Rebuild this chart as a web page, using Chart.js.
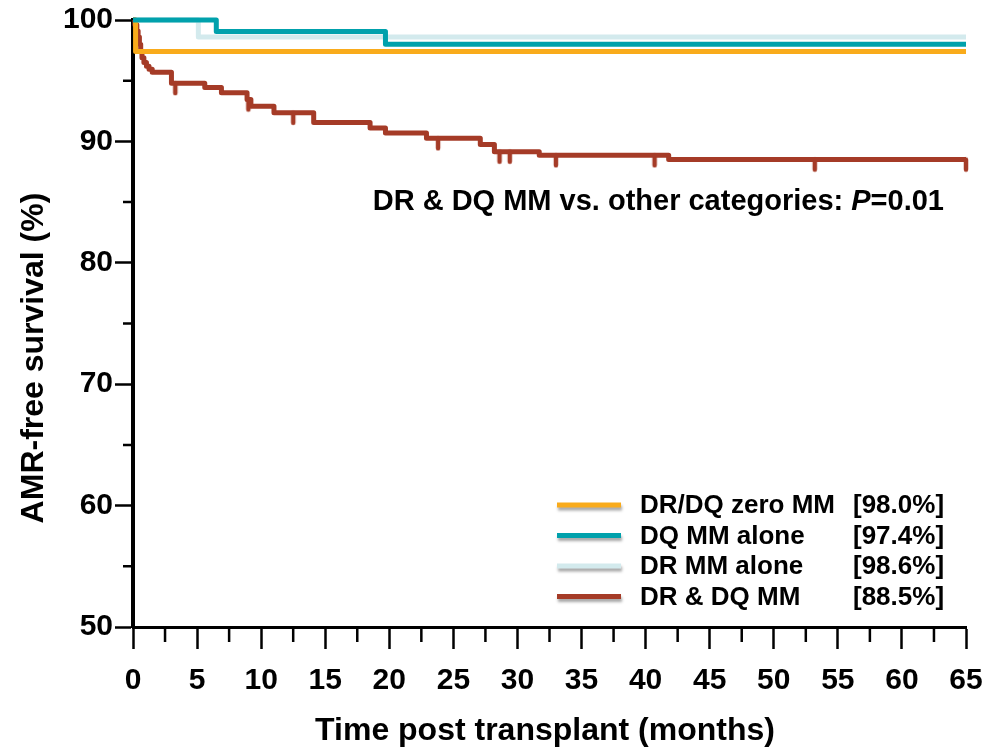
<!DOCTYPE html>
<html>
<head>
<meta charset="utf-8">
<script src="https://cdn.jsdelivr.net/npm/chart.js@4.4.1/dist/chart.umd.min.js"></script>
<style>
  html, body { margin: 0; padding: 0; background: #ffffff; }
  #wrap { width: 990px; height: 748px; }
</style>
</head>
<body>
<div id="wrap"><canvas id="km" width="990" height="748"></canvas></div>
<script>
// Kaplan-Meier AMR-free survival by HLA-DR/DQ mismatch category
const seriesNames   = ['DR/DQ zero MM', 'DQ MM alone', 'DR MM alone', 'DR & DQ MM'];
const legendPercent = ['[98.0%]', '[97.4%]', '[98.6%]', '[88.5%]'];
const seriesColors  = ['#f9ab1b', '#00a1ac', '#d3eaed', '#a53b27'];

// event times (months) and survival (%) after each event
const zeroMmTime = [0, 0.2, 65];
const zeroMmSurv = [100, 97.4, 97.4];

const dqOnlyTime = [0, 6.5, 19.7, 65];
const dqOnlySurv = [100, 99.05, 98.0, 98.0];

const drOnlyTime = [0, 5.1, 65];
const drOnlySurv = [100, 98.6, 98.6];

const bothTime = [0, 0.15, 0.3, 0.4, 0.5, 0.6, 0.7, 0.85, 1.05, 1.25, 1.5, 3.0, 5.6, 6.9, 8.9, 9.2, 11.0, 14.1, 18.5, 19.7, 22.9, 27.1, 28.2, 31.7, 41.8, 65];
const bothSurv = [100, 99.6, 99.1, 98.6, 98.0, 97.4, 96.9, 96.5, 96.2, 95.95, 95.7, 94.8, 94.45, 94.0, 93.45, 92.9, 92.35, 91.55, 91.1, 90.7, 90.25, 89.75, 89.15, 88.85, 88.5, 88.5];

// censored observations in the DR & DQ MM group (months)
const bothCensored = [3.3, 9.0, 12.5, 23.8, 28.6, 29.4, 33.0, 40.7, 53.2, 65];

// axis ticks
const xTickValues  = [0, 5, 10, 15, 20, 25, 30, 35, 40, 45, 50, 55, 60, 65];
const xMinorValues = [2.5, 7.5, 12.5, 17.5, 22.5, 27.5, 32.5, 37.5, 42.5, 47.5, 52.5, 57.5, 62.5];
const yTickValues  = [50, 60, 70, 80, 90, 100];
const yMinorValues = [55, 65, 75, 85, 95];

const xTitle = 'Time post transplant (months)';
const yTitle = 'AMR-free survival (%)';
const noteText = 'DR & DQ MM vs. other categories: ';
const notePLabel = 'P';
const notePValue = '=0.01';

const FONT = '"Liberation Sans", Arial, Helvetica, sans-serif';

function toPoints(times, surv) {
  return times.map((t, i) => ({ x: t, y: surv[i] }));
}

// survival level of a step curve at time t
function levelAt(times, surv, t) {
  let v = surv[0];
  for (let i = 0; i < times.length; i++) {
    if (times[i] <= t) v = surv[i];
  }
  return v;
}

// tick mark hanging below a censored point
function censorMark(color) {
  const c = document.createElement('canvas');
  c.width = 8; c.height = 26;
  const g = c.getContext('2d');
  g.strokeStyle = color;
  g.lineWidth = 4.5;
  g.lineCap = 'round';
  g.beginPath();
  g.moveTo(4, 13);
  g.lineTo(4, 23);
  g.stroke();
  return c;
}

function stepDataset(i, times, surv, order) {
  return {
    label: seriesNames[i],
    data: toPoints(times, surv),
    borderColor: seriesColors[i],
    backgroundColor: seriesColors[i],
    borderWidth: 5,
    stepped: 'before',
    pointRadius: 0,
    fill: false,
    clip: false,
    borderJoinStyle: 'round',
    order: order
  };
}

const datasets = [
  stepDataset(1, dqOnlyTime, dqOnlySurv, 0),
  stepDataset(0, zeroMmTime, zeroMmSurv, 1),
  stepDataset(3, bothTime, bothSurv, 2),
  stepDataset(2, drOnlyTime, drOnlySurv, 3),
  {
    label: 'censored',
    data: bothCensored.map(t => ({ x: t, y: levelAt(bothTime, bothSurv, t) })),
    showLine: false,
    pointStyle: censorMark(seriesColors[3]),
    pointRadius: 3,
    clip: false,
    order: 2
  }
];

const minorTicksPlugin = {
  id: 'minorTicks',
  afterDraw(chart) {
    const ctx = chart.ctx;
    const xs = chart.scales.x, ys = chart.scales.y;
    const area = chart.chartArea;
    ctx.save();
    ctx.strokeStyle = '#000';
    ctx.lineWidth = 2.5;
    ctx.beginPath();
    xMinorValues.forEach(v => {
      const px = xs.getPixelForValue(v);
      ctx.moveTo(px, area.bottom);
      ctx.lineTo(px, area.bottom + 15);
    });
    yMinorValues.forEach(v => {
      const py = ys.getPixelForValue(v);
      ctx.moveTo(area.left, py);
      ctx.lineTo(area.left - 10, py);
    });
    ctx.stroke();
    ctx.restore();
  }
};

const textPlugin = {
  id: 'chartTexts',
  afterDraw(chart) {
    const ctx = chart.ctx;
    ctx.save();
    ctx.fillStyle = '#000';

    // axis titles
    ctx.font = 'bold 32px ' + FONT;
    ctx.textAlign = 'center';
    ctx.textBaseline = 'alphabetic';
    ctx.fillText(xTitle, 545, 740);

    ctx.save();
    ctx.translate(43, 358);
    ctx.rotate(-Math.PI / 2);
    ctx.fillText(yTitle, 0, 0);
    ctx.restore();

    // comparison note, right aligned
    ctx.textAlign = 'left';
    const regular = 'bold 29px ' + FONT;
    const italic = 'italic bold 29px ' + FONT;
    ctx.font = regular;
    const w1 = ctx.measureText(noteText).width;
    const w3 = ctx.measureText(notePValue).width;
    ctx.font = italic;
    const w2 = ctx.measureText(notePLabel).width;
    const right = 944, base = 210;
    let x = right - (w1 + w2 + w3);
    ctx.font = regular;
    ctx.fillText(noteText, x, base);
    x += w1;
    ctx.font = italic;
    ctx.fillText(notePLabel, x, base);
    x += w2;
    ctx.font = regular;
    ctx.fillText(notePValue, x, base);

    // legend
    const rows = [505, 535.5, 566, 596.5];
    seriesNames.forEach((name, i) => {
      const y = rows[i];
      ctx.save();
      ctx.shadowColor = 'rgba(0,0,0,0.35)';
      ctx.shadowBlur = 3;
      ctx.shadowOffsetX = 1;
      ctx.shadowOffsetY = 3;
      ctx.strokeStyle = seriesColors[i];
      ctx.lineWidth = 5;
      ctx.beginPath();
      ctx.moveTo(557, y);
      ctx.lineTo(621, y);
      ctx.stroke();
      ctx.restore();
      ctx.font = 'bold 26px ' + FONT;
      ctx.fillStyle = '#000';
      ctx.fillText(name, 640, y + 8);
      ctx.fillText(legendPercent[i], 853, y + 8);
    });
    ctx.restore();
  }
};

new Chart(document.getElementById('km'), {
  type: 'line',
  data: { datasets },
  options: {
    responsive: false,
    animation: false,
    events: [],
    layout: { padding: { left: 0, right: 24, top: 20, bottom: 0 } },
    plugins: {
      legend: { display: false },
      tooltip: { enabled: false },
      title: { display: false }
    },
    scales: {
      x: {
        type: 'linear',
        min: 0,
        max: 65,
        afterFit(s) { s.height = 121; s.paddingLeft = 0; s.paddingRight = 0; },
        afterBuildTicks(s) { s.ticks = xTickValues.map(v => ({ value: v })); },
        ticks: {
          color: '#000',
          font: { family: FONT, size: 30, weight: 'bold' },
          padding: 14,
          maxRotation: 0,
          autoSkip: false
        },
        grid: {
          drawOnChartArea: false,
          drawTicks: true,
          tickLength: 22,
          tickWidth: 2.5,
          tickColor: '#000'
        },
        border: { display: true, color: '#000', width: 3 }
      },
      y: {
        type: 'linear',
        min: 50,
        max: 100,
        afterFit(s) { s.width = 133; s.paddingTop = 0; s.paddingBottom = 0; },
        afterBuildTicks(s) { s.ticks = yTickValues.map(v => ({ value: v })); },
        ticks: {
          color: '#000',
          font: { family: FONT, size: 30, weight: 'bold' },
          padding: 2,
          autoSkip: false
        },
        grid: {
          drawOnChartArea: false,
          drawTicks: true,
          tickLength: 18,
          tickWidth: 2.5,
          tickColor: '#000'
        },
        border: { display: true, color: '#000', width: 4 }
      }
    }
  },
  plugins: [minorTicksPlugin, textPlugin]
});
</script>
</body>
</html>
